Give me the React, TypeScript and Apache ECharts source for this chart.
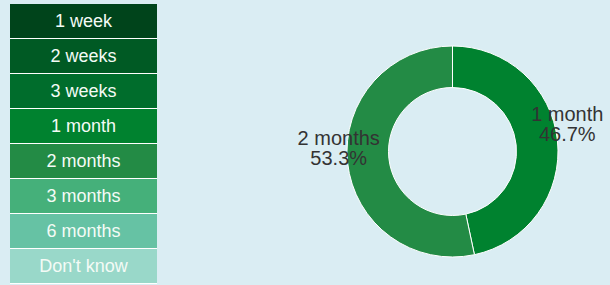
import React, { useEffect, useRef } from "react";
import * as echarts from "echarts";

const categories = ["1 week", "2 weeks", "3 weeks", "1 month", "2 months", "3 months", "6 months", "Don't know"];
const counts = [0, 0, 0, 7, 8, 0, 0, 0];
const colors = ["#00441b", "#005a24", "#006d2c", "#00822f", "#238b45", "#45b07a", "#66c2a4", "#99d8c9"];

const BG = "#daedf3";
const FONT = "Liberation Sans";

export default function App() {
  const ref = useRef<HTMLDivElement>(null);
  useEffect(() => {
    document.body.style.margin = "0";
    const chart = echarts.init(ref.current!, null, { renderer: "svg" });
    const cx = 452.5;
    const legendGraphics: any[] = [];
    categories.forEach((c, i) => {
      legendGraphics.push({
        type: "rect",
        shape: { x: 10, y: 4 + 35 * i, width: 147, height: 34 },
        style: { fill: colors[i] },
        textContent: {
          style: { text: c, fill: "#f4fbf6", fontSize: 18, fontFamily: FONT },
        },
        textConfig: { position: "inside" },
      });
      legendGraphics.push({
        type: "rect",
        shape: { x: 10, y: 38 + 35 * i, width: 147, height: 1 },
        style: { fill: "#ffffff" },
      });
    });
    chart.setOption({
      animation: false,
      backgroundColor: BG,
      graphic: legendGraphics,
      series: [
        {
          type: "pie",
          center: [cx, 151.5],
          radius: [64, 105.5],
          startAngle: 90,
          clockwise: true,
          percentPrecision: 1,
          minShowLabelAngle: 1,
          itemStyle: { borderColor: "#ffffff", borderWidth: 1 },
          label: {
            show: true,
            position: "inside",
            formatter: "{b}\n{d}%",
            color: "#333333",
            fontSize: 20,
            lineHeight: 20,
            fontFamily: FONT,
          },
          labelLayout: (params: any) => {
            const r = params.labelRect;
            const right = r.x + r.width / 2 > cx;
            return { dx: right ? 27.5 : -26.5, dy: right ? -18.6 : -13 };
          },
          emphasis: { disabled: true },
          data: categories.map((c, i) => ({ name: c, value: counts[i], itemStyle: { color: colors[i] } })),
        },
      ],
    });
    return () => chart.dispose();
  }, []);
  return <div ref={ref} style={{ width: 610, height: 285, background: BG }} />;
}
